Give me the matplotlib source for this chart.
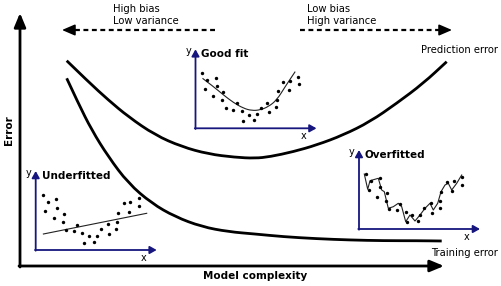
import matplotlib.pyplot as plt
from matplotlib.path import Path
from matplotlib.patches import PathPatch

# error curves (image pixel coordinates, y grows downwards)
pred_x = [66.7, 88.3, 108.3, 128.3, 155, 181.7, 208.3, 235, 255, 270, 293.3,
          316.7, 343.3, 370, 396.7, 423.3, 446.7]
pred_y = [60.7, 81.7, 100, 116.7, 135, 146.7, 154, 157.3, 158.3, 156.7, 151.7,
          145, 135, 121.7, 103.3, 83.3, 61.7]
train_x = [66.7, 78.3, 91.7, 108.3, 128.3, 151.7, 175, 201.7, 228.3, 255,
           283.3, 316.7, 350, 383.3, 416.7, 441.7]
train_y = [78.3, 103.3, 130, 156.7, 183.3, 203.3, 216.7, 226.7, 231.7, 234,
           236.7, 238.7, 240, 240.7, 240.7, 241]

# sample points shared by the three small plots (offsets from the small origin)
sample_x = [7, 12, 20.7, 9.7, 21.3, 18, 28, 27, 30.3, 38, 41.3, 46.7, 48, 53.3,
            58.7, 61.3, 65.3, 72, 73.3, 80.7, 81.3, 82.3, 88, 93.3, 94.7, 103, 103.3]
sample_y = [55, 48.3, 50.7, 39.3, 42.3, 32.3, 36.3, 28.3, 20.3, 18.7, 25, 17, 7.3,
            13.7, 8, 14, 20.7, 25.7, 16, 21, 28.3, 37.3, 46.7, 38.3, 47.7, 51.7, 44]

# fitted models
under_x = [7.7, 111]
under_y = [16, 36.7]
good_x = [7, 18, 28, 38, 48, 56.3, 64.7, 73, 81.3, 89.7, 99.7]
good_y = [50, 41.7, 33.3, 25.7, 20, 17.7, 18.3, 21.7, 28.3, 41.7, 56.7]
over_x = [5.3, 8.7, 11, 19.3, 22.7, 25.3, 29.3, 34.3, 39.3, 42.7, 46.7, 51, 56,
          61, 66, 71, 74.3, 78.7, 82, 86, 89.3, 92.7, 97.7, 102.7]
over_y = [55, 39.7, 48.3, 50.7, 39, 37.3, 20.7, 22.3, 25.7, 22.3, 7.3, 14, 8,
          14, 20.7, 25.7, 19, 25.7, 37.3, 44, 45.7, 39, 45.7, 54]

NAVY = '#16167e'

fig = plt.figure(figsize=(5.02, 2.86), dpi=100)
ax = fig.add_axes([0, 0, 1, 1])
ax.set_xlim(0, 502)
ax.set_ylim(286, 0)
ax.axis('off')


def arrow(x0, y0, x1, y1, color, lw, scale, hl, hw):
    ax.annotate('', xy=(x1, y1), xytext=(x0, y0),
                arrowprops=dict(arrowstyle=f'-|>,head_length={hl},head_width={hw}',
                                color=color, lw=lw, mutation_scale=scale,
                                shrinkA=0, shrinkB=0))


def smooth(xs, ys, color, lw):
    # quadratic bezier through the read points (points act as control points)
    pts = list(zip(xs, ys))
    verts = [pts[0]]
    codes = [Path.MOVETO]
    for i in range(1, len(pts) - 1):
        mid = ((pts[i][0] + pts[i + 1][0]) / 2, (pts[i][1] + pts[i + 1][1]) / 2)
        verts += [pts[i], mid]
        codes += [Path.CURVE3, Path.CURVE3]
    verts.append(pts[-1])
    codes.append(Path.LINETO)
    ax.add_patch(PathPatch(Path(verts, codes), fill=False, edgecolor=color,
                           lw=lw, capstyle='butt'))


# main axes
arrow(20, 267, 20, 13, 'black', 2, 14, 0.6, 0.25)
arrow(19, 266, 444, 266, 'black', 2, 14, 0.6, 0.25)
ax.text(9, 130, 'Error', rotation=90, ha='center', va='center',
        fontsize=7.5, fontweight='bold')
ax.text(255, 276, 'Model complexity', ha='center', va='center',
        fontsize=7.5, fontweight='bold')

# curves
smooth(pred_x, pred_y, 'black', 2)
smooth(train_x, train_y, 'black', 2)
ax.text(498, 50, 'Prediction error', ha='right', va='center', fontsize=7.2)
ax.text(498, 253, 'Training error', ha='right', va='center', fontsize=7.2)

# bias / variance dashed arrows
ax.plot([215, 72], [30, 30], color='black', lw=1.6, ls=(0, (2.2, 1.6)))
arrow(74, 30, 62, 30, 'black', 1.2, 12, 0.65, 0.28)
ax.plot([300, 442], [30, 30], color='black', lw=1.6, ls=(0, (2.2, 1.6)))
arrow(440, 30, 452, 30, 'black', 1.2, 12, 0.65, 0.28)
ax.text(113, 8.5, 'High bias', ha='left', va='center', fontsize=7.2)
ax.text(113, 21.5, 'Low variance', ha='left', va='center', fontsize=7.2)
ax.text(307, 8.5, 'Low bias', ha='left', va='center', fontsize=7.2)
ax.text(307, 21.5, 'High variance', ha='left', va='center', fontsize=7.2)


def small_plot(ox, oy, title, fx, fy, curved):
    arrow(ox, oy + 0.7, ox, oy - 79, NAVY, 1.3, 5, 0.8, 0.45)
    arrow(ox - 0.7, oy, ox + 121, oy, NAVY, 1.3, 5, 0.8, 0.45)
    ax.scatter([ox + v for v in sample_x], [oy - v for v in sample_y],
               s=6, color='black', lw=0, zorder=3)
    px = [ox + v for v in fx]
    py = [oy - v for v in fy]
    if curved:
        smooth(px, py, '#222222', 0.8)
    else:
        ax.plot(px, py, color='#222222', lw=0.8)
    ax.text(ox - 7, oy - 77, 'y', ha='center', va='center', fontsize=7)
    ax.text(ox + 108, oy + 8, 'x', ha='center', va='center', fontsize=7)
    ax.text(ox + 6, oy - 74, title, ha='left', va='center',
            fontsize=7.5, fontweight='bold')


small_plot(195.5, 128.3, 'Good fit', good_x, good_y, True)
small_plot(35.7, 250, 'Underfitted', under_x, under_y, False)
small_plot(359, 229, 'Overfitted', over_x, over_y, False)

fig.savefig('out.png', dpi=100)
